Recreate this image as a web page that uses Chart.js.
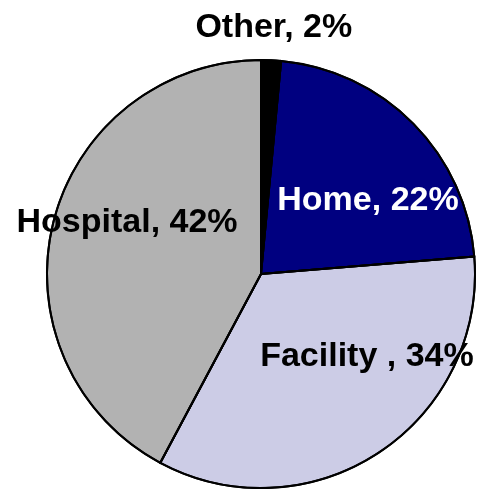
<!DOCTYPE html>
<html>
<head>
<meta charset="utf-8">
<script src="https://cdn.jsdelivr.net/npm/chart.js@4"></script>
<style>
html,body{margin:0;padding:0;background:#fff;}
canvas{display:block;}
</style>
</head>
<body>
<canvas id="c" width="477" height="489"></canvas>
<script>
const categories = ["Other", "Home", "Facility ", "Hospital"];
const shares = [1.5, 22.2, 34.1, 42.2];
const sliceColors = ["#000000", "#000080", "#CCCCE6", "#B2B2B2"];
const labelColors = ["#000000", "#FFFFFF", "#000000", "#000000"];
// label anchor offsets from pie centre, as fractions of radius
const labelOffsets = [[0.06, -1.107], [0.50, -0.30], [0.495, 0.43], [-0.626, -0.196]];

const labelPlugin = {
  id: 'sliceLabels',
  afterDatasetsDraw(chart) {
    const ctx = chart.ctx;
    const arcs = chart.getDatasetMeta(0).data;
    if (!arcs.length) return;
    const cx = arcs[0].x, cy = arcs[0].y, r = arcs[0].outerRadius;
    ctx.save();
    ctx.font = 'bold 34px "Liberation Sans", Arial, sans-serif';
    ctx.textAlign = 'center';
    ctx.textBaseline = 'alphabetic';
    categories.forEach((c, i) => {
      ctx.fillStyle = labelColors[i];
      const txt = c + ', ' + Math.round(shares[i]) + '%';
      ctx.fillText(txt, cx + labelOffsets[i][0] * r, cy + labelOffsets[i][1] * r);
    });
    // redraw outlines over the text
    ctx.strokeStyle = '#000';
    ctx.lineWidth = 2;
    arcs.forEach(a => {
      ctx.beginPath();
      ctx.moveTo(a.x, a.y);
      ctx.arc(a.x, a.y, a.outerRadius, a.startAngle, a.endAngle);
      ctx.closePath();
      ctx.stroke();
    });
    ctx.restore();
  }
};

new Chart(document.getElementById('c'), {
  type: 'pie',
  data: {
    labels: categories,
    datasets: [{
      data: shares,
      backgroundColor: sliceColors,
      borderColor: '#000000',
      borderWidth: 2,
      borderAlign: 'center'
    }]
  },
  options: {
    responsive: false,
    animation: false,
    layout: { padding: { left: 46, right: 1, top: 59, bottom: 0 } },
    plugins: {
      legend: { display: false },
      tooltip: { enabled: false }
    }
  },
  plugins: [labelPlugin]
});
</script>
</body>
</html>
